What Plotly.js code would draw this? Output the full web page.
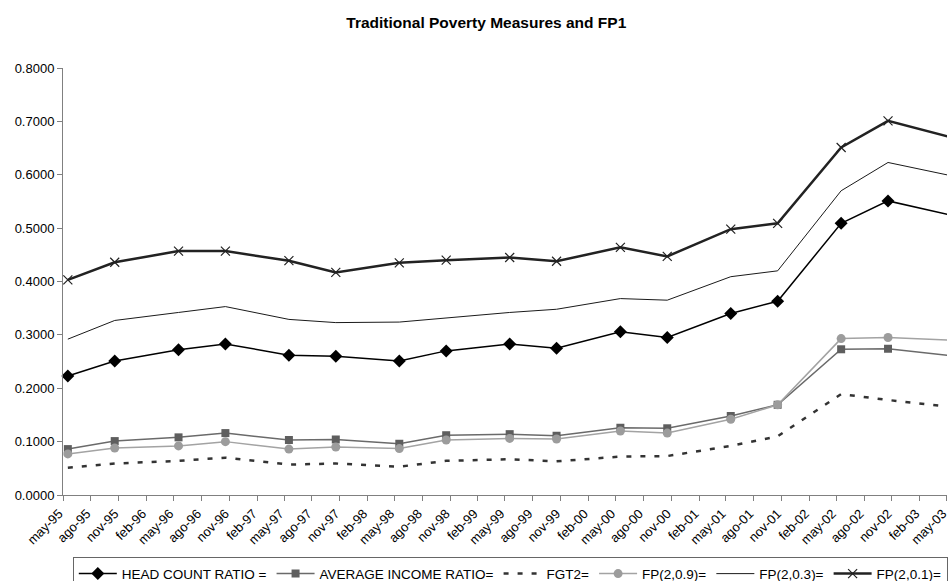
<!DOCTYPE html>
<html>
<head>
<meta charset="utf-8">
<script src="https://cdn.plot.ly/plotly-3.0.1.min.js"></script>
<style>
  html, body { margin: 0; padding: 0; background: #fff; overflow: hidden; }
  #chart { width: 948px; height: 581px; }
</style>
</head>
<body>
<div id="chart"></div>
<script>
// Survey waves (May and October each year)
const surveyDates = [
  "1995-05-17", "1995-10-19", "1996-05-17", "1996-10-19",
  "1997-05-17", "1997-10-19", "1998-05-17", "1998-10-19",
  "1999-05-17", "1999-10-19", "2000-05-17", "2000-10-19",
  "2001-05-17", "2001-10-19", "2002-05-17", "2002-10-19",
  "2003-05-17"
];

// Quarterly axis ticks
const tickDates = [
  "1995-05-01", "1995-08-01", "1995-11-01", "1996-02-01", "1996-05-01", "1996-08-01", "1996-11-01",
  "1997-02-01", "1997-05-01", "1997-08-01", "1997-11-01", "1998-02-01", "1998-05-01", "1998-08-01",
  "1998-11-01", "1999-02-01", "1999-05-01", "1999-08-01", "1999-11-01", "2000-02-01", "2000-05-01",
  "2000-08-01", "2000-11-01", "2001-02-01", "2001-05-01", "2001-08-01", "2001-11-01", "2002-02-01",
  "2002-05-01", "2002-08-01", "2002-11-01", "2003-02-01", "2003-05-01"
];
const tickLabels = [
  "may-95", "ago-95", "nov-95", "feb-96", "may-96", "ago-96", "nov-96",
  "feb-97", "may-97", "ago-97", "nov-97", "feb-98", "may-98", "ago-98",
  "nov-98", "feb-99", "may-99", "ago-99", "nov-99", "feb-00", "may-00",
  "ago-00", "nov-00", "feb-01", "may-01", "ago-01", "nov-01", "feb-02",
  "may-02", "ago-02", "nov-02", "feb-03", "may-03"
];

// Poverty measures
const headCount = [0.223, 0.251, 0.272, 0.283, 0.262, 0.260, 0.251, 0.270,
                   0.283, 0.275, 0.306, 0.295, 0.340, 0.363, 0.509, 0.551, 0.524];
const avgIncome = [0.086, 0.101, 0.108, 0.116, 0.103, 0.104, 0.096, 0.112,
                   0.114, 0.111, 0.126, 0.125, 0.148, 0.169, 0.273, 0.274, 0.261];
const fgt2      = [0.051, 0.059, 0.064, 0.070, 0.057, 0.059, 0.053, 0.064,
                   0.067, 0.063, 0.072, 0.073, 0.092, 0.110, 0.189, 0.178, 0.165];
const fp209     = [0.077, 0.088, 0.092, 0.100, 0.086, 0.090, 0.087, 0.103,
                   0.106, 0.105, 0.120, 0.116, 0.142, 0.169, 0.293, 0.295, 0.290];
const fp203     = [0.292, 0.327, 0.342, 0.353, 0.329, 0.323, 0.324, 0.332,
                   0.342, 0.348, 0.368, 0.365, 0.409, 0.420, 0.570, 0.623, 0.598];
const fp201     = [0.403, 0.436, 0.457, 0.457, 0.439, 0.417, 0.435, 0.440,
                   0.445, 0.438, 0.464, 0.447, 0.498, 0.509, 0.651, 0.701, 0.670];

const traces = [
  {
    name: "HEAD COUNT RATIO =", x: surveyDates, y: headCount, type: "scatter", mode: "lines+markers",
    line: { color: "#000000", width: 1.5 },
    marker: { symbol: "diamond", size: 10, color: "#000000" }
  },
  {
    name: "AVERAGE INCOME RATIO=", x: surveyDates, y: avgIncome, type: "scatter", mode: "lines+markers",
    line: { color: "#6a6a6a", width: 1.5 },
    marker: { symbol: "square", size: 8, color: "#5e5e5e" }
  },
  {
    name: "FGT2=", x: surveyDates, y: fgt2, type: "scatter", mode: "lines",
    line: { color: "#333333", width: 2.5, dash: "5px,9px" }
  },
  {
    name: "FP(2,0.9)=", x: surveyDates, y: fp209, type: "scatter", mode: "lines+markers",
    line: { color: "#a3a3a3", width: 1.5 },
    marker: { symbol: "circle", size: 9, color: "#9c9c9c" }
  },
  {
    name: "FP(2,0.3)=", x: surveyDates, y: fp203, type: "scatter", mode: "lines",
    line: { color: "#1a1a1a", width: 1 }
  },
  {
    name: "FP(2,0.1)=", x: surveyDates, y: fp201, type: "scatter", mode: "lines+markers",
    line: { color: "#222222", width: 2.5 },
    marker: { symbol: "x-thin", size: 9, line: { color: "#222222", width: 1.2 } }
  }
];
traces.forEach(t => { t.cliponaxis = false; });

const layout = {
  width: 948,
  height: 581,
  paper_bgcolor: "#ffffff",
  plot_bgcolor: "#ffffff",
  font: { family: "Liberation Sans, Arial, sans-serif", size: 13, color: "#000000" },
  title: {
    text: "<b>Traditional Poverty Measures and FP1</b>",
    font: { family: "Liberation Sans, Arial, sans-serif", size: 15.5, color: "#000000" },
    x: 0.513, xref: "container", xanchor: "center",
    y: 0.962, yref: "container", yanchor: "middle"
  },
  margin: { l: 63, r: 1, t: 68, b: 86, autoexpand: false },
  showlegend: true,
  legend: {
    orientation: "h",
    x: 0.506, xanchor: "center",
    y: -0.146, yanchor: "top",
    bordercolor: "#666666", borderwidth: 1,
    font: { size: 13.5, color: "#000000" },
    itemwidth: 38,
    tracegroupgap: 0
  },
  xaxis: {
    type: "date",
    range: ["1995-05-01", "2003-05-02"],
    tickmode: "array",
    tickvals: tickDates,
    ticktext: tickLabels,
    tickangle: -45,
    ticklabeloverflow: "allow",
    ticklabelshift: -4,
    ticks: "outside", ticklen: 5, tickcolor: "#808080",
    showline: true, linecolor: "#808080", linewidth: 1,
    showgrid: false, zeroline: false,
    tickfont: { size: 13, color: "#000000" },
    fixedrange: true
  },
  yaxis: {
    range: [0, 0.8],
    dtick: 0.1, tick0: 0,
    tickformat: ".4f",
    ticks: "outside", ticklen: 5, tickcolor: "#808080",
    showline: true, linecolor: "#808080", linewidth: 1,
    showgrid: false, zeroline: false,
    tickfont: { size: 13, color: "#000000" },
    fixedrange: true
  }
};

Plotly.newPlot("chart", traces, layout, { displayModeBar: false, staticPlot: true });
</script>
</body>
</html>
